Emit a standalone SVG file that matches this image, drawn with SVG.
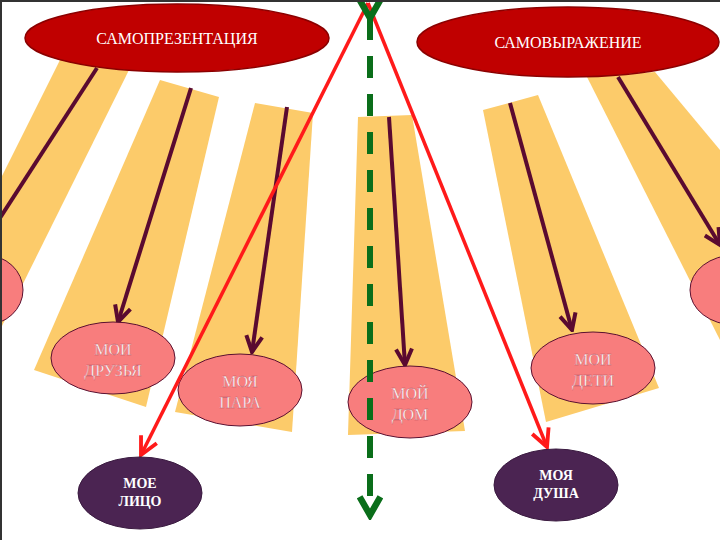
<svg xmlns="http://www.w3.org/2000/svg" width="720" height="540" viewBox="0 0 720 540">
<defs>
<style>
.ray{fill:#FCCB6A}
.hd{fill:#C00000;stroke:#8B0000;stroke-width:1.5}
.pk{fill:#F87D7D;stroke:#5A1030;stroke-width:1}
.dk{fill:#4B2452;stroke:#3A1A40;stroke-width:1}
.t{font-family:"Liberation Serif","DejaVu Serif",serif;fill:#fff;text-anchor:middle}
.tp{font-size:16px;fill:#fff;stroke:#C05060;stroke-width:0.3}
.tb{font-size:14px;font-weight:bold}
.m{stroke:#5A0A30;stroke-width:4;fill:none}
.r{stroke:#FF1A1A;stroke-width:3.5;fill:none}
</style>
<marker id="am" viewBox="0 0 20 20" refX="18" refY="10" markerWidth="20" markerHeight="20" markerUnits="userSpaceOnUse" orient="auto"><path d="M2,2 L18,10 L2,18" fill="none" stroke="#5A0A30" stroke-width="4"/></marker>
<marker id="ar" viewBox="0 0 20 20" refX="18" refY="10" markerWidth="22" markerHeight="22" markerUnits="userSpaceOnUse" orient="auto"><path d="M2,2 L18,10 L2,18" fill="none" stroke="#FF1A1A" stroke-width="3.5"/></marker>
<marker id="ag" viewBox="0 0 20 20" refX="16" refY="10" markerWidth="26" markerHeight="26" markerUnits="userSpaceOnUse" orient="auto"><path d="M2,2 L16,10 L2,18" fill="none" stroke="#0A6E1A" stroke-width="5"/></marker>
</defs>
<rect width="720" height="540" fill="#fff"/>
<g id="rays">
<polygon class="ray" points="60,60 130,68 0,330 0,180"/>
<polygon class="ray" points="160,80 219,97 146,407 34,370"/>
<polygon class="ray" points="255,103 313,113 292,432 175,412"/>
<polygon class="ray" points="358,117 412,115 465,431 348,435"/>
<polygon class="ray" points="483,110 538,95 659,388 546,422"/>
<polygon class="ray" points="587,77 655,72 720,150 720,340"/>
</g>
<g id="side-left"><ellipse class="pk" cx="-15" cy="290" rx="38" ry="35"/></g>
<g id="side-right"><ellipse class="pk" cx="735" cy="290" rx="45" ry="35"/></g>
<g id="connectors">
<line class="m" x1="97" y1="68" x2="0" y2="218"/>
<line class="m" x1="191" y1="88" x2="118" y2="322" marker-end="url(#am)"/>
<line class="m" x1="287" y1="107" x2="252" y2="352" marker-end="url(#am)"/>
<line class="m" x1="389" y1="117" x2="405" y2="365" marker-end="url(#am)"/>
<line class="m" x1="510" y1="103" x2="572" y2="330" marker-end="url(#am)"/>
<line class="m" x1="618" y1="77" x2="720" y2="245" marker-end="url(#am)"/>
</g>
<g id="n-samopresentacia"><ellipse class="hd" cx="177" cy="38" rx="152" ry="34"/><text class="t" x="177" y="44" font-size="16">САМОПРЕЗЕНТАЦИЯ</text></g>
<g id="n-samovyrazhenie"><ellipse class="hd" cx="568" cy="42" rx="151" ry="35"/><text class="t" x="568" y="48" font-size="16">САМОВЫРАЖЕНИЕ</text></g>
<g id="n-druzya"><ellipse class="pk" cx="113" cy="358" rx="62" ry="36"/><text class="t tp" x="113" y="355">МОИ</text><text class="t tp" x="113" y="376">ДРУЗЬЯ</text></g>
<g id="n-para"><ellipse class="pk" cx="240" cy="390" rx="62" ry="36"/><text class="t tp" x="240" y="387">МОЯ</text><text class="t tp" x="240" y="408">ПАРА</text></g>
<g id="n-dom"><ellipse class="pk" cx="410" cy="402" rx="62" ry="36"/><text class="t tp" x="410" y="399">МОЙ</text><text class="t tp" x="410" y="420">ДОМ</text></g>
<g id="n-deti"><ellipse class="pk" cx="593" cy="368" rx="62" ry="36"/><text class="t tp" x="593" y="365">МОИ</text><text class="t tp" x="593" y="386">ДЕТИ</text></g>
<g id="arrows-main">
<line class="r" x1="368" y1="3" x2="141" y2="455" marker-end="url(#ar)"/>
<line class="r" x1="368" y1="3" x2="547" y2="447" marker-end="url(#ar)"/>
<line x1="370" y1="18" x2="370" y2="515" stroke="#0A6E1A" stroke-width="6" stroke-dasharray="22,16" marker-start="url(#ag)" marker-end="url(#ag)" transform="" />
</g>
<g id="n-lico"><ellipse class="dk" cx="140" cy="493" rx="62" ry="36"/><text class="t tb" x="140" y="488">МОЕ</text><text class="t tb" x="140" y="506">ЛИЦО</text></g>
<g id="n-dusha"><ellipse class="dk" cx="556" cy="485" rx="62" ry="36"/><text class="t tb" x="556" y="480">МОЯ</text><text class="t tb" x="556" y="498">ДУША</text></g>
<path d="M1,540 V1 H720" fill="none" stroke="#333" stroke-width="2"/>
</svg>
